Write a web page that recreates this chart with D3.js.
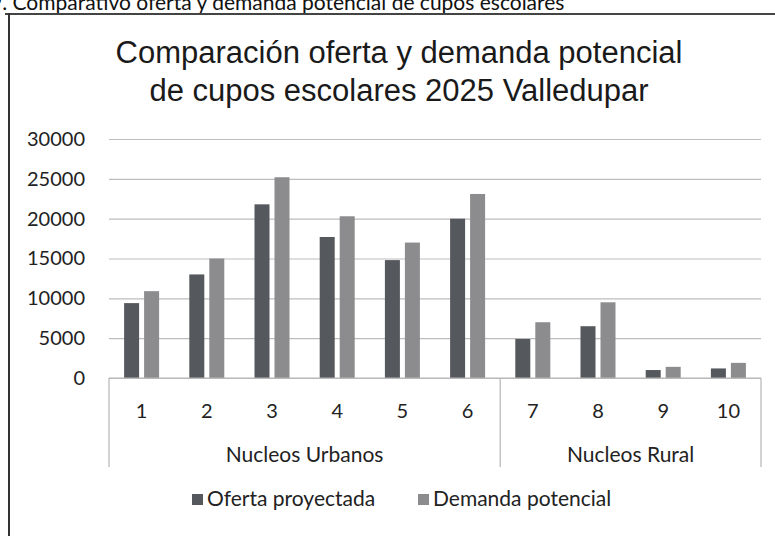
<!DOCTYPE html>
<html lang="es">
  <head>
    <meta charset="utf-8">
    <title>Oferta y demanda de cupos escolares</title>
    <script src="https://cdn.jsdelivr.net/npm/d3@7"></script>
    <style>
      body { margin: 0; background: #fff; }
      svg { display: block; }
    </style>
  </head>
  <body>
    <script>

      // datos
      var nucleos = ["1", "2", "3", "4", "5", "6", "7", "8", "9", "10"]
      var grupos = [
        { nombre: "Nucleos Urbanos", desde: "1", hasta: "6" },
        { nombre: "Nucleos Rural", desde: "7", hasta: "10" }
      ]
      var series = ["Oferta proyectada", "Demanda potencial"]
      var oferta = [9400, 13000, 21800, 17700, 14800, 20000, 4900, 6500, 1000, 1200]
      var demanda = [10900, 15000, 25200, 20300, 17000, 23100, 7000, 9500, 1400, 1900]
      var yTicks = [0, 5000, 10000, 15000, 20000, 25000, 30000]

      var colores = { "Oferta proyectada": "#55585c", "Demanda potencial": "#8c8c8e" }

      var W = 775, H = 536
      var plotLeft = 109, plotRight = 761, plotTop = 139, plotBase = 378
      var fuente = "Lato, 'Open Sans', sans-serif"

      var svg = d3.select("body").append("svg")
                  .attr("width", W)
                  .attr("height", H)

      // titulo de la figura (cortado arriba en el escaneo)
      svg.append("text")
         .attr("x", -10)
         .attr("y", 10)
         .style("font-family", fuente)
         .style("font-size", "21px")
         .style("fill", "#111")
         .text("9. Comparativo oferta y demanda potencial de cupos escolares")

      // marco del grafico
      svg.append("line").attr("x1", 5).attr("x2", W).attr("y1", 14).attr("y2", 14)
         .style("stroke", "#444").style("stroke-width", 2)
      svg.append("line").attr("x1", 9).attr("x2", 9).attr("y1", 13).attr("y2", H)
         .style("stroke", "#333").style("stroke-width", 2)

      var title = svg.append("text")
         .attr("text-anchor", "middle")
         .style("font-family", "'Liberation Sans', Arial, sans-serif")
         .style("font-size", "31px")
         .style("fill", "#1a1a1a")
      title.append("tspan").attr("x", 399).attr("y", 63).text("Comparación oferta y demanda potencial")
      title.append("tspan").attr("x", 399).attr("y", 101).text("de cupos escolares 2025 Valledupar")

      var x0 = d3.scaleBand().domain(nucleos).range([plotLeft, plotRight])
      var x1 = d3.scaleBand().domain(series)
                 .range([x0.bandwidth() / 2 - 17.5, x0.bandwidth() / 2 + 17.5])
                 .paddingInner(0.25)
      var y = d3.scaleLinear().domain([0, 30000]).range([plotBase, plotTop])

      // lineas de cuadricula y etiquetas del eje
      var yAxis = d3.axisLeft(y).tickValues(yTicks).tickSize(-(plotRight - plotLeft)).tickFormat(d3.format("d"))
      var gy = svg.append("g").attr("transform", "translate(" + plotLeft + ",0)").call(yAxis)
      gy.select(".domain").remove()
      gy.selectAll(".tick line").style("stroke", "#bdbdbd").style("stroke-width", 1.2)
      gy.selectAll(".tick text")
        .attr("x", -24)
        .style("font-family", fuente)
        .style("font-size", "20px")
        .style("fill", "#222")

      var datos = nucleos.map(function(n, i) {
        return { n: n, valores: [ { s: series[0], v: oferta[i] }, { s: series[1], v: demanda[i] } ] }
      })

      svg.selectAll("g.grupo")
         .data(datos)
         .enter().append("g")
         .attr("class", "grupo")
         .attr("transform", function(d) { return "translate(" + x0(d.n) + ",0)" })
         .selectAll("rect")
         .data(function(d) { return d.valores })
         .enter().append("rect")
         .attr("x", function(d) { return x1(d.s) })
         .attr("width", x1.bandwidth())
         .attr("y", function(d) { return y(d.v) })
         .attr("height", function(d) { return plotBase - y(d.v) })
         .style("fill", function(d) { return colores[d.s] })

      // eje de categorias con su tabla de grupos
      var boxBottom = 467
      svg.append("line").attr("x1", plotLeft).attr("x2", plotRight).attr("y1", plotBase).attr("y2", plotBase)
         .style("stroke", "#b5b5b5").style("stroke-width", 1.2)
      var cortes = [plotLeft, x0(grupos[1].desde), plotRight]
      svg.selectAll("line.corte")
         .data(cortes)
         .enter().append("line")
         .attr("class", "corte")
         .attr("x1", function(d) { return d }).attr("x2", function(d) { return d })
         .attr("y1", plotBase).attr("y2", boxBottom)
         .style("stroke", "#b5b5b5").style("stroke-width", 1.2)

      svg.selectAll("text.nucleo")
         .data(nucleos)
         .enter().append("text")
         .attr("class", "nucleo")
         .attr("x", function(d) { return x0(d) + x0.bandwidth() / 2 })
         .attr("y", 418)
         .attr("text-anchor", "middle")
         .style("font-family", fuente)
         .style("font-size", "20px")
         .style("fill", "#222")
         .text(function(d) { return d })

      svg.selectAll("text.grupo")
         .data(grupos)
         .enter().append("text")
         .attr("class", "grupo")
         .attr("x", function(d) { return (x0(d.desde) + x0(d.hasta) + x0.bandwidth()) / 2 })
         .attr("y", 462)
         .attr("text-anchor", "middle")
         .style("font-family", fuente)
         .style("font-size", "21px")
         .style("fill", "#222")
         .text(function(d) { return d.nombre })

      // leyenda
      var legX = [192, 418]
      var leg = svg.selectAll("g.leyenda")
         .data(series)
         .enter().append("g")
         .attr("class", "leyenda")
         .attr("transform", function(d, i) { return "translate(" + legX[i] + ",506)" })
      leg.append("rect").attr("x", 0).attr("y", -12).attr("width", 11).attr("height", 11)
         .style("fill", function(d) { return colores[d] })
      leg.append("text")
         .attr("x", 15)
         .attr("y", 0)
         .style("font-family", fuente)
         .style("font-size", "21px")
         .style("fill", "#222")
         .text(function(d) { return d })

    </script>
  </body>
</html>
